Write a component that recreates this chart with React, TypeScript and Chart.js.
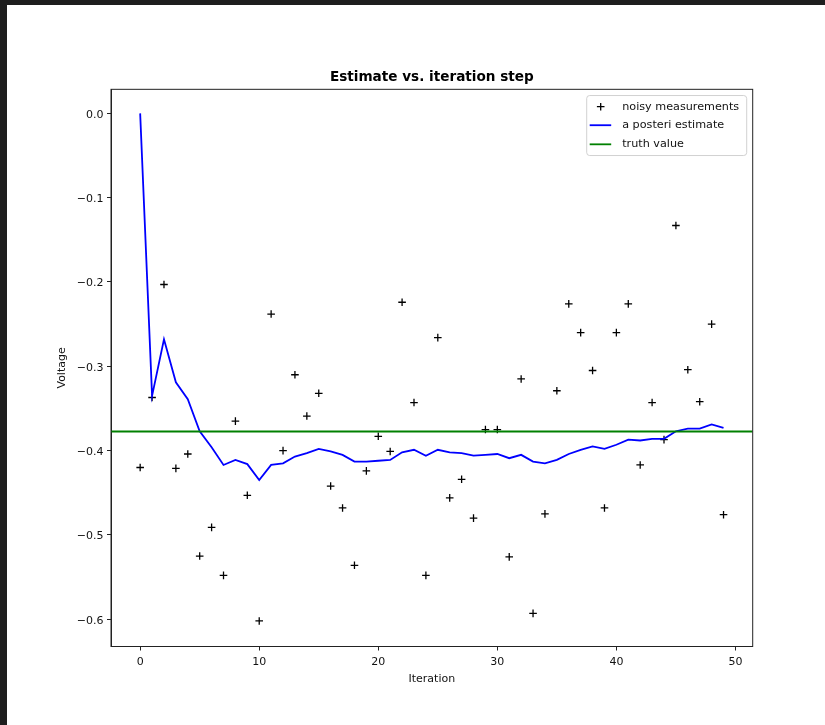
import React, { useEffect, useRef } from 'react';
import { Chart, registerables } from 'chart.js';

Chart.register(...registerables);

// ---- data ----
const iterations = [
  0, 1, 2, 3, 4, 5, 6, 7, 8, 9, 10, 11, 12, 13, 14, 15, 16, 17, 18, 19, 20, 21, 22, 23, 24,
  25, 26, 27, 28, 29, 30, 31, 32, 33, 34, 35, 36, 37, 38, 39, 40, 41, 42, 43, 44, 45, 46, 47, 48, 49,
];
const noisyMeasurements = [
  -0.420, -0.337, -0.203, -0.421, -0.404, -0.525, -0.491, -0.548, -0.365, -0.453,
  -0.602, -0.238, -0.400, -0.310, -0.359, -0.332, -0.442, -0.468, -0.536, -0.424,
  -0.383, -0.401, -0.224, -0.343, -0.548, -0.266, -0.456, -0.434, -0.480, -0.375,
  -0.375, -0.526, -0.315, -0.593, -0.475, -0.329, -0.226, -0.260, -0.305, -0.468,
  -0.260, -0.226, -0.417, -0.343, -0.387, -0.133, -0.304, -0.342, -0.250, -0.476,
];
const posterioriEstimate = [
  0.0, -0.335, -0.268, -0.319, -0.339, -0.377, -0.396, -0.417, -0.411, -0.416,
  -0.435, -0.417, -0.415, -0.407, -0.403, -0.398, -0.401, -0.405, -0.413, -0.413,
  -0.412, -0.411, -0.402, -0.399, -0.406, -0.399, -0.402, -0.403, -0.406, -0.405,
  -0.404, -0.409, -0.405, -0.413, -0.415, -0.411, -0.404, -0.399, -0.395, -0.398,
  -0.393, -0.387, -0.388, -0.386, -0.386, -0.377, -0.374, -0.374, -0.369, -0.373,
];
const truthValue = -0.3773;
const xTickValues = [0, 10, 20, 30, 40, 50];
const yTickValues = [0.0, -0.1, -0.2, -0.3, -0.4, -0.5, -0.6];
const xRange = [-2.45, 51.45];
const yRange = [-0.6323, 0.0285];

const FONT = 'DejaVu Sans';
const TEXT = '#111';
const SPINE = '#222';

const fmtMinus = (s: string) => s.replace('-', '\u2212');

const framePlugin = {
  id: 'frame',
  afterDatasetsDraw(chart: any) {
    const { ctx, chartArea } = chart;
    ctx.save();
    ctx.strokeStyle = SPINE;
    ctx.lineWidth = 1;
    ctx.strokeRect(chartArea.left, chartArea.top, chartArea.right - chartArea.left, chartArea.bottom - chartArea.top);
    ctx.restore();
  },
};

const legendPlugin = {
  id: 'mplLegend',
  afterDraw(chart: any) {
    const { ctx, chartArea } = chart;
    const boxW = 160;
    const boxH = 60;
    const x0 = chartArea.right - 6.5 - boxW;
    const y0 = chartArea.top + 5.7;
    ctx.save();
    ctx.beginPath();
    if (ctx.roundRect) ctx.roundRect(x0 + 0.5, y0 + 0.5, boxW, boxH, 3);
    else ctx.rect(x0 + 0.5, y0 + 0.5, boxW, boxH);
    ctx.fillStyle = 'rgba(255,255,255,0.8)';
    ctx.fill();
    ctx.strokeStyle = 'rgba(204,204,204,0.9)';
    ctx.lineWidth = 1;
    ctx.stroke();
    const rows = [11.7, 30.2, 49.3];
    const ds = chart.data.datasets;
    ctx.font = `11.2px "${FONT}"`;
    ctx.textBaseline = 'middle';
    ctx.textAlign = 'left';
    ds.forEach((d: any, i: number) => {
      const y = y0 + rows[i];
      if (d.showLine === false) {
        const cx = x0 + 14.5;
        ctx.strokeStyle = d.borderColor;
        ctx.lineWidth = 1.3;
        ctx.beginPath();
        ctx.moveTo(cx - 3.8, y);
        ctx.lineTo(cx + 3.8, y);
        ctx.moveTo(cx, y - 3.8);
        ctx.lineTo(cx, y + 3.8);
        ctx.stroke();
      } else {
        ctx.strokeStyle = d.borderColor;
        ctx.lineWidth = 1.8;
        ctx.beginPath();
        ctx.moveTo(x0 + 3.5, y);
        ctx.lineTo(x0 + 25, y);
        ctx.stroke();
      }
      ctx.fillStyle = TEXT;
      ctx.fillText(d.label, x0 + 36, y);
    });
    ctx.restore();
  },
};

export default function App() {
  const canvasRef = useRef<HTMLCanvasElement | null>(null);

  useEffect(() => {
    if (!canvasRef.current) return;
    Chart.defaults.font.family = FONT;
    Chart.defaults.color = TEXT;

    const chart = new Chart(canvasRef.current, {
      type: 'scatter',
      data: {
        datasets: [
          {
            label: 'noisy measurements',
            data: iterations.map((x, i) => ({ x, y: noisyMeasurements[i] })),
            showLine: false,
            pointStyle: 'cross',
            pointRadius: 3.8,
            pointBorderWidth: 1.3,
            borderColor: '#000000',
            backgroundColor: '#000000',
            order: 3,
          },
          {
            label: 'a posteri estimate',
            data: iterations.map((x, i) => ({ x, y: posterioriEstimate[i] })),
            showLine: true,
            borderColor: '#0000ff',
            borderWidth: 1.8,
            pointRadius: 0,
            tension: 0,
            order: 2,
          },
          {
            label: 'truth value',
            data: [
              { x: xRange[0], y: truthValue },
              { x: xRange[1], y: truthValue },
            ],
            showLine: true,
            borderColor: '#008000',
            borderWidth: 1.8,
            pointRadius: 0,
            order: 1,
          },
        ],
      },
      options: {
        responsive: false,
        animation: false,
        devicePixelRatio: 1,
        layout: { padding: { left: 0, right: 72.3, top: 0, bottom: 0 } },
        plugins: {
          legend: { display: false },
          tooltip: { enabled: false },
          title: {
            display: true,
            text: 'Estimate vs. iteration step',
            fullSize: false,
            color: '#000',
            font: { family: FONT, size: 13.6, weight: 'bold', lineHeight: 1.2 },
            padding: { top: 69.8, bottom: 3.2 },
          },
        },
        scales: {
          x: {
            type: 'linear',
            position: 'bottom',
            min: xRange[0],
            max: xRange[1],
            afterBuildTicks: (scale: any) => {
              scale.ticks = xTickValues.map((v) => ({ value: v }));
            },
            afterFit: (scale: any) => {
              scale.height = 78.5;
            },
            ticks: {
              font: { family: FONT, size: 11 },
              color: TEXT,
              padding: 5.5,
              maxRotation: 0,
              autoSkip: false,
              callback: (v: any) => fmtMinus(String(v)),
            },
            grid: { drawOnChartArea: false, drawTicks: true, tickLength: 4, color: SPINE, tickWidth: 1 },
            border: { display: true, color: SPINE, width: 1 },
            title: {
              display: true,
              text: 'Iteration',
              color: TEXT,
              font: { family: FONT, size: 11, lineHeight: 1.2 },
              padding: { top: 0, bottom: 39.6 },
            },
          },
          y: {
            type: 'linear',
            position: 'left',
            min: yRange[0],
            max: yRange[1],
            afterBuildTicks: (scale: any) => {
              scale.ticks = yTickValues.map((v) => ({ value: v }));
            },
            afterFit: (scale: any) => {
              scale.width = 111;
            },
            ticks: {
              font: { family: FONT, size: 11 },
              color: TEXT,
              padding: 3.5,
              labelOffset: 1.5,
              autoSkip: false,
              callback: (v: any) => fmtMinus(Number(v).toFixed(1)),
            },
            grid: { drawOnChartArea: false, drawTicks: true, tickLength: 4, color: SPINE, tickWidth: 1 },
            border: { display: true, color: SPINE, width: 1 },
            title: {
              display: true,
              text: 'Voltage',
              color: TEXT,
              font: { family: FONT, size: 11, lineHeight: 1.2 },
              padding: { top: 56, bottom: 0 },
            },
          },
        },
      },
      plugins: [framePlugin, legendPlugin],
    } as any);

    return () => chart.destroy();
  }, []);

  return (
    <div style={{ position: 'fixed', left: 0, top: 0, width: 825, height: 725, background: '#ffffff', overflow: 'hidden' }}>
      <canvas ref={canvasRef} width={825} height={725} style={{ position: 'absolute', left: 0, top: 0, width: 825, height: 725 }} />
      <div style={{ position: 'absolute', left: 0, top: 0, width: 825, height: 5, background: '#1e1e1e' }} />
      <div style={{ position: 'absolute', left: 0, top: 0, width: 7, height: 725, background: '#1e1e1e' }} />
    </div>
  );
}
